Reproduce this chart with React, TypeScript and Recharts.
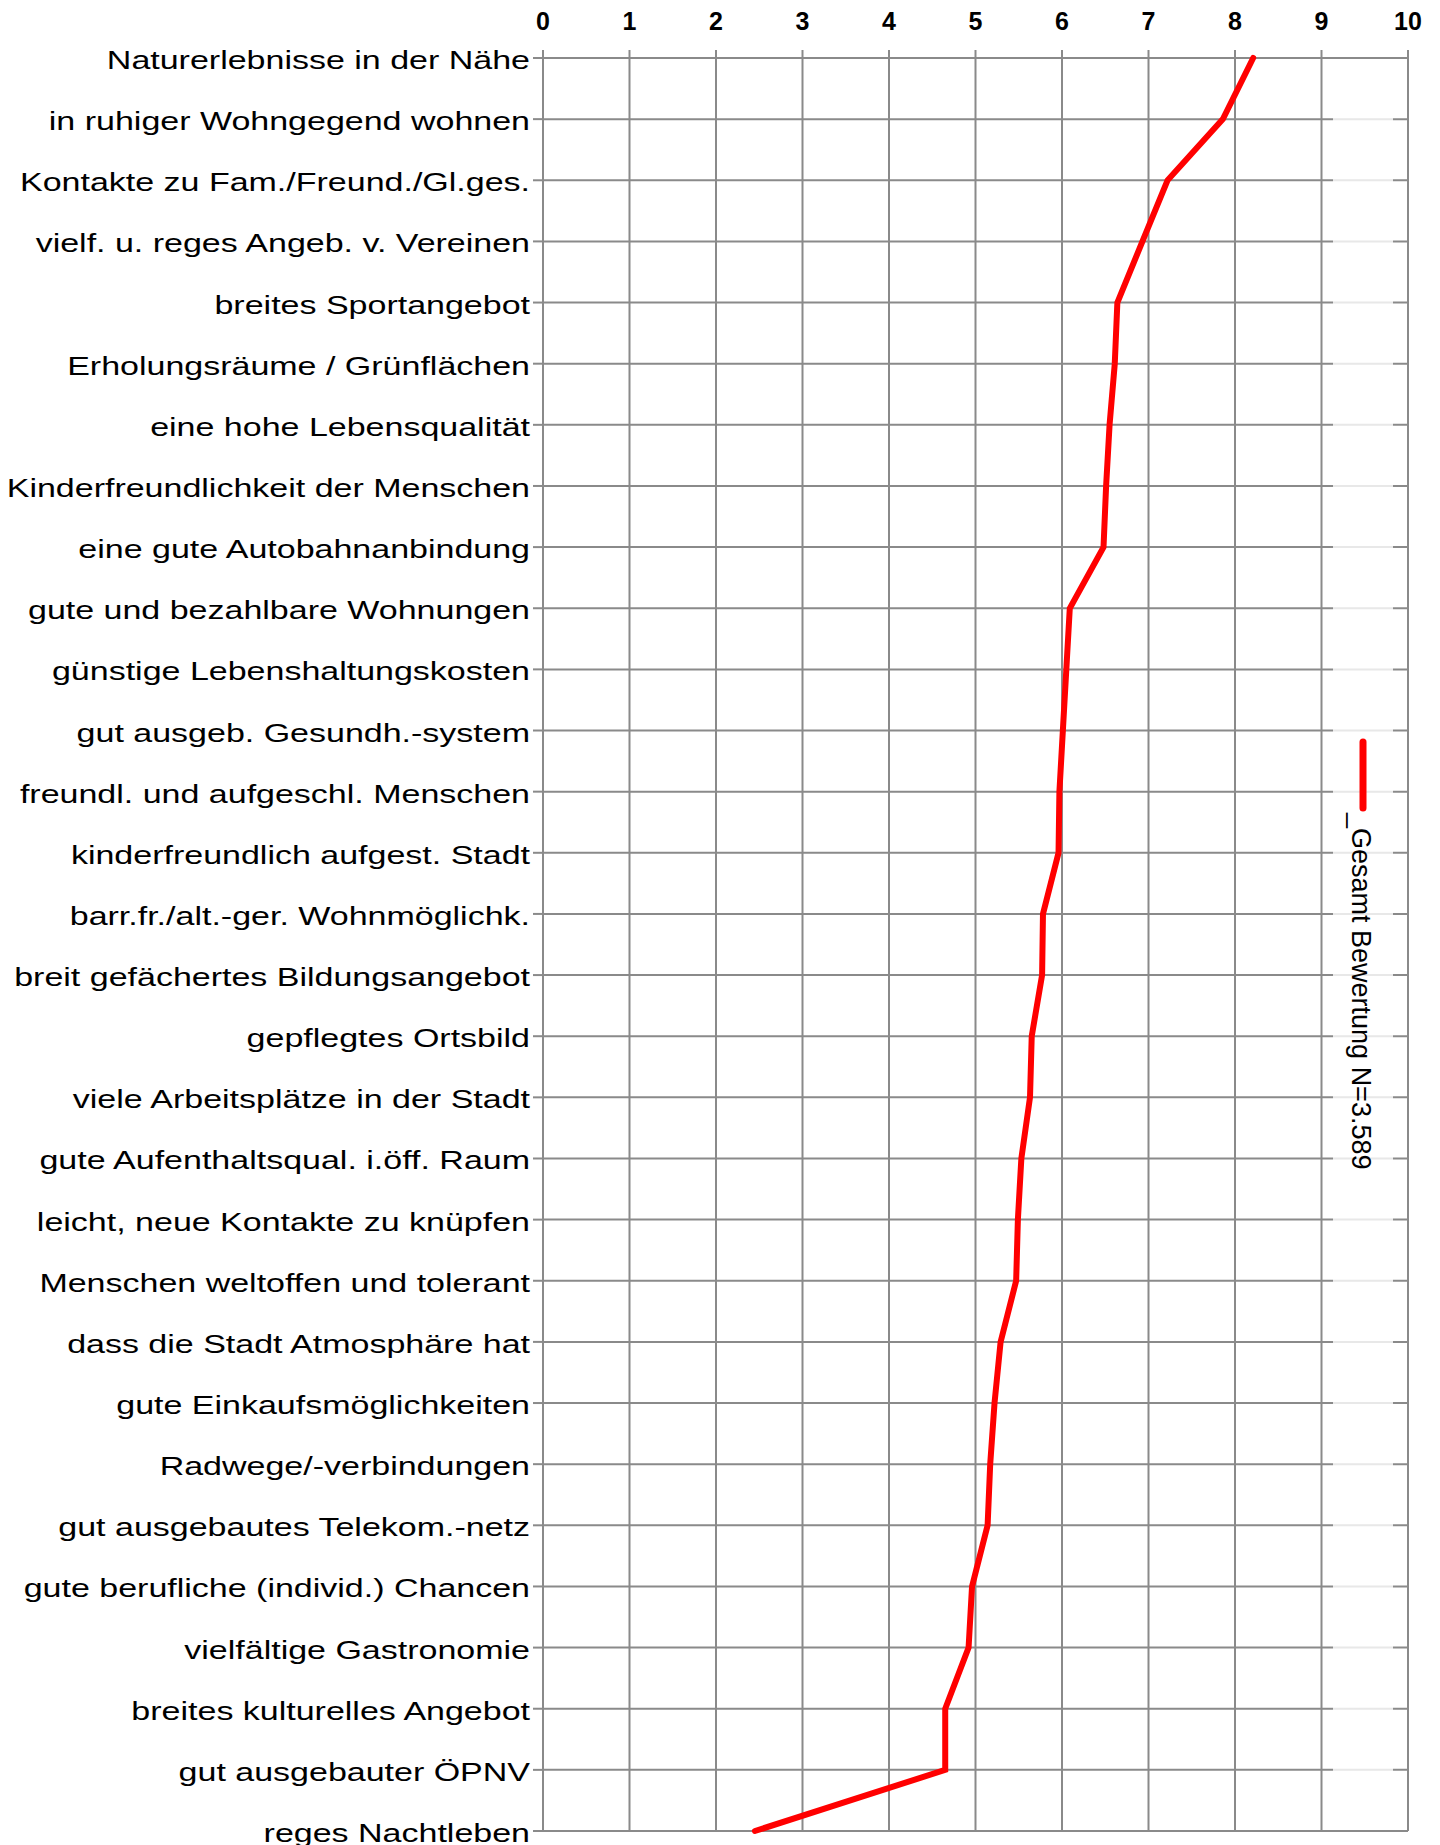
import { LineChart, Line, CartesianGrid, XAxis, YAxis, Legend } from "recharts";

const categories = [
  "Naturerlebnisse in der Nähe",
  "in ruhiger Wohngegend wohnen",
  "Kontakte zu Fam./Freund./Gl.ges.",
  "vielf. u. reges Angeb. v. Vereinen",
  "breites Sportangebot",
  "Erholungsräume / Grünflächen",
  "eine hohe Lebensqualität",
  "Kinderfreundlichkeit der Menschen",
  "eine gute Autobahnanbindung",
  "gute und bezahlbare Wohnungen",
  "günstige Lebenshaltungskosten",
  "gut ausgeb. Gesundh.-system",
  "freundl. und aufgeschl. Menschen",
  "kinderfreundlich aufgest. Stadt",
  "barr.fr./alt.-ger. Wohnmöglichk.",
  "breit gefächertes Bildungsangebot",
  "gepflegtes Ortsbild",
  "viele Arbeitsplätze in der Stadt",
  "gute Aufenthaltsqual. i.öff. Raum",
  "leicht, neue Kontakte zu knüpfen",
  "Menschen weltoffen und tolerant",
  "dass die Stadt Atmosphäre hat",
  "gute Einkaufsmöglichkeiten",
  "Radwege/-verbindungen",
  "gut ausgebautes Telekom.-netz",
  "gute berufliche (individ.) Chancen",
  "vielfältige Gastronomie",
  "breites kulturelles Angebot",
  "gut ausgebauter ÖPNV",
  "reges Nachtleben",
];

const gesamt = [
  8.21, 7.86, 7.22, 6.93, 6.64, 6.61, 6.55, 6.51, 6.48, 6.09,
  6.05, 6.01, 5.97, 5.96, 5.78, 5.77, 5.65, 5.63, 5.53, 5.49,
  5.47, 5.29, 5.22, 5.17, 5.14, 4.96, 4.92, 4.65, 4.65, 2.45,
];

const xTicks = [0, 1, 2, 3, 4, 5, 6, 7, 8, 9, 10];

const seriesName = "_Gesamt Bewertung N=3.589";

const rows = categories.map((label, i) => ({ label, value: gesamt[i] }));

const FONT = "'Liberation Sans', Arial, sans-serif";
const GRID = "#8a8a8a";

function CategoryTick(props: any) {
  const { x, y, payload } = props;
  return (
    <g transform={`translate(${x},${y + 2})`}>
      <text
        transform="scale(1.36,1)"
        textAnchor="end"
        dy="0.36em"
        fontSize={25}
        fontFamily={FONT}
        fill="#000"
      >
        {payload.value}
      </text>
    </g>
  );
}

function SeriesLegend(props: any) {
  const item = props.payload && props.payload[0];
  return (
    <svg width={60} height={1760} style={{ display: "block" }}>
      <rect width={60} height={1760} fill="#fff" fillOpacity={0.8} />
      <line x1={30} y1={677} x2={30} y2={743} stroke="#ff0000" strokeWidth={7} strokeLinecap="round" />
      <text
        transform="translate(19,748) rotate(90)"
        fontSize={27}
        fontFamily={FONT}
        fill="#000"
      >
        {item ? item.value : seriesName}
      </text>
    </svg>
  );
}

export default function App() {
  return (
    <div style={{ position: "absolute", left: 0, top: 0, background: "#fff" }}>
      <LineChart
        width={1440}
        height={1845}
        layout="vertical"
        data={rows}
        margin={{ top: 28, right: 32, bottom: 14, left: 0 }}
        style={{ fontFamily: FONT }}
      >
        <CartesianGrid stroke={GRID} strokeWidth={2} />
        <XAxis
          type="number"
          orientation="top"
          domain={[0, 10]}
          ticks={xTicks}
          interval={0}
          height={30}
          axisLine={false}
          tickLine={{ stroke: GRID, strokeWidth: 2 }}
          tickSize={8}
          tickMargin={20}
          tick={{ fill: "#000", fontSize: 25, fontWeight: "bold", fontFamily: FONT }}
        />
        <YAxis
          type="category"
          dataKey="label"
          scale="point"
          width={543}
          interval={0}
          axisLine={false}
          tickLine={{ stroke: GRID, strokeWidth: 2 }}
          tickSize={10}
          tickMargin={3}
          tick={<CategoryTick />}
        />
        <Legend
          layout="vertical"
          align="center"
          verticalAlign="middle"
          content={<SeriesLegend />}
          wrapperStyle={{ left: 1333, top: 65, width: 60, height: 1760 }}
        />
        <Line
          dataKey="value"
          name={seriesName}
          stroke="#ff0000"
          strokeWidth={6}
          strokeLinecap="round"
          dot={false}
          activeDot={false}
          isAnimationActive={false}
        />
      </LineChart>
    </div>
  );
}
